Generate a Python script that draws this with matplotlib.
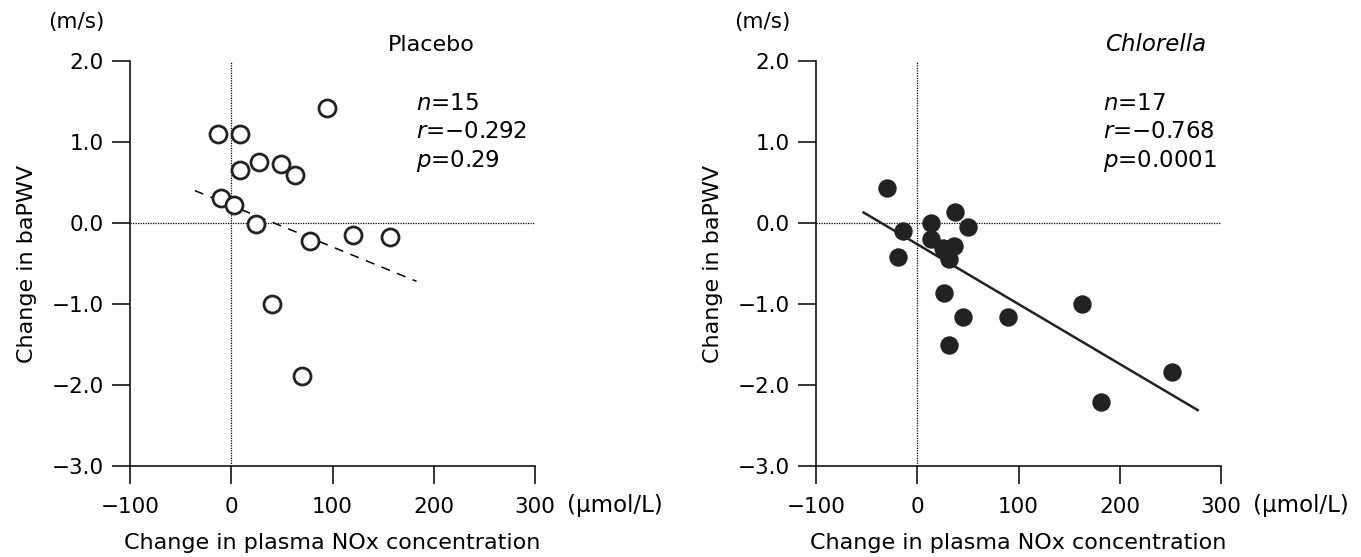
import numpy as np
import matplotlib
matplotlib.use("Agg")
import matplotlib.pyplot as plt

# data
placebo_x = [-13, 9, 95, 9, 27, 49, 63, -10, 3, 24, 78, 120, 157, 40, 70]
placebo_y = [1.10, 1.10, 1.42, 0.65, 0.75, 0.73, 0.59, 0.31, 0.22, -0.01,
             -0.22, -0.15, -0.17, -1.00, -1.89]
placebo_fit_x = [-36, 183]
placebo_fit_y = [0.40, -0.72]

chlorella_x = [-30, -14, -19, 14, 14, 25, 36, 37, 31, 50, 26, 45, 31, 90, 163, 181, 252]
chlorella_y = [0.43, -0.10, -0.42, 0.00, -0.20, -0.31, -0.28, 0.14, -0.44, -0.05,
               -0.86, -1.16, -1.50, -1.16, -1.00, -2.21, -1.84]
chlorella_fit_x = [-53, 277]
chlorella_fit_y = [0.13, -2.31]

x_ticks = [-100, 0, 100, 200, 300]
y_ticks = [2.0, 1.0, 0.0, -1.0, -2.0, -3.0]

stats = {
    "Placebo": ["$n$=15", "$r$=\u22120.292", "$p$=0.29"],
    "Chlorella": ["$n$=17", "$r$=\u22120.768", "$p$=0.0001"],
}

plt.rcParams.update({
    "font.family": "DejaVu Sans",
    "font.size": 15,
    "mathtext.fontset": "dejavusans",
})

W, H = 1361, 557
fig = plt.figure(figsize=(W / 100, H / 100), dpi=100)


def px_axes(x0, x1, y0, y1):
    return fig.add_axes([x0 / W, 1 - y1 / H, (x1 - x0) / W, (y1 - y0) / H])


def style_axes(ax):
    ax.set_xlim(-100, 300)
    ax.set_ylim(-3, 2)
    for s in ("top", "right"):
        ax.spines[s].set_visible(False)
    for s in ("left", "bottom"):
        ax.spines[s].set_linewidth(1.1)
    ax.set_xticks(x_ticks)
    ax.set_xticklabels([f"{t:d}".replace("-", "\u2212") for t in x_ticks])
    ax.set_yticks(y_ticks)
    ax.set_yticklabels([f"{t:.1f}".replace("-", "\u2212") for t in y_ticks])
    ax.tick_params(axis="x", length=13, width=1.1, pad=9, labelsize=15.5)
    ax.tick_params(axis="y", length=13, width=1.1, pad=6, labelsize=15.5)
    ax.axvline(0, color="black", lw=0.9, ls=(0, (1, 1)), zorder=1)
    ax.axhline(0, color="black", lw=0.9, ls=(0, (1, 1)), zorder=1)
    ax.set_ylabel("Change in baPWV", fontsize=16, labelpad=10)
    ax.set_xlabel("Change in plasma NOx concentration", fontsize=16, labelpad=12)
    ax.text(1.079, -0.097, "(\u00b5mol/L)", transform=ax.transAxes, fontsize=16.5,
            ha="left", va="center")
    ax.text(-0.202, 1.096, "(m/s)", transform=ax.transAxes, fontsize=15.5,
            ha="left", va="center")


ax1 = px_axes(130, 535, 61, 466)
style_axes(ax1)
ax1.plot(placebo_fit_x, placebo_fit_y, color="black", lw=1.1, ls=(0, (6, 5)), zorder=2)
ax1.scatter(placebo_x, placebo_y, s=150, facecolor="white", edgecolor="#222222",
            linewidth=2.0, zorder=3)
ax1.text(155, 2.2, "Placebo", fontsize=16, ha="left", va="center")
for i, line in enumerate(stats["Placebo"]):
    ax1.text(182, 1.48 - 0.355 * i, line, fontsize=16.5, ha="left", va="center")

ax2 = px_axes(816, 1221, 61, 466)
style_axes(ax2)
ax2.plot(chlorella_fit_x, chlorella_fit_y, color="#222222", lw=1.8, zorder=2)
ax2.scatter(chlorella_x, chlorella_y, s=150, color="#222222", zorder=3)
ax2.text(185, 2.2, "Chlorella", fontsize=16.5, ha="left", va="center", style="italic")
for i, line in enumerate(stats["Chlorella"]):
    ax2.text(183, 1.48 - 0.355 * i, line, fontsize=16.5, ha="left", va="center")

fig.savefig("out.png", dpi=100)
